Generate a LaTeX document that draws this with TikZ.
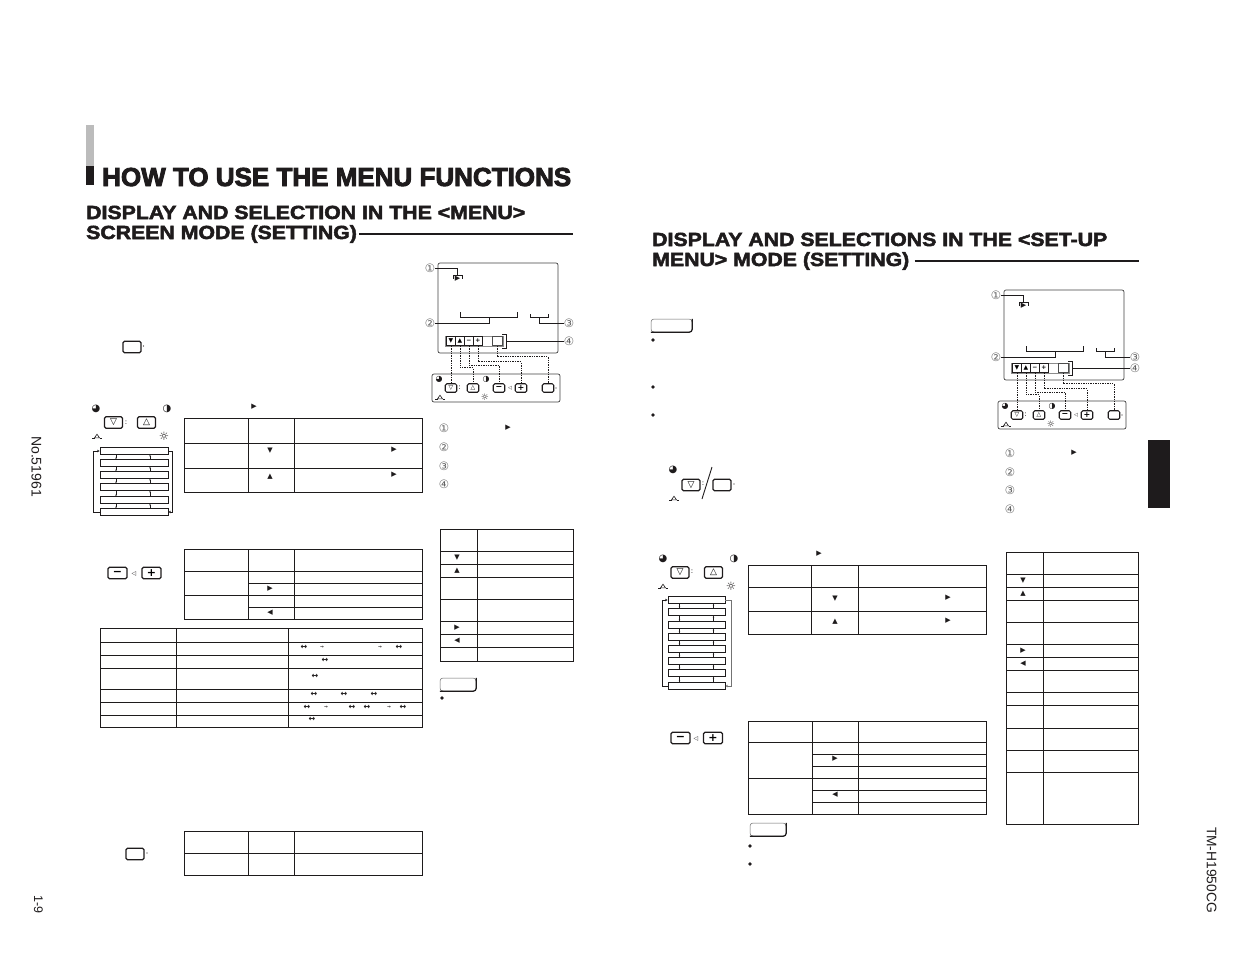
\documentclass[tikz,border=0pt]{standalone}
\usepackage{fontspec}
\setmainfont{Liberation Sans}
\newfontfamily\symfont{DejaVu Sans}
\newfontfamily\titlefont[BoldFeatures={FakeBold=3.4}]{Liberation Sans}
\newfontfamily\subfont[BoldFeatures={FakeBold=2.6,FakeStretch=1.12}]{Liberation Sans}
\usetikzlibrary{arrows.meta}
\definecolor{inkblack}{HTML}{1E1B1C}
\definecolor{barsilver}{HTML}{BCBCBC}
\tikzset{
    tablerule/.style={draw=inkblack, line width=0.95pt},
    glyph/.style={inner sep=0pt, text=inkblack, font=\symfont\fontsize{7}{7}\selectfont},
    panelicon/.style={glyph, font=\symfont\fontsize{8}{8}\selectfont},
    bigicon/.style={glyph, font=\symfont\fontsize{10}{10}\selectfont},
    panelsun/.style={glyph, font=\symfont\fontsize{9}{9}\selectfont},
    bigsun/.style={glyph, font=\symfont\fontsize{11.5}{11.5}\selectfont},
    numglyph/.style={inner sep=0pt, text=black!62, font=\symfont\fontsize{11.5}{11.5}\selectfont},
    keycap/.style={draw=inkblack, line width=1.3pt, rounded corners=1.5pt, inner sep=0pt, minimum width=18pt, minimum height=11.5pt, font=\symfont\fontsize{9}{9}\selectfont},
    signcap/.style={keycap, minimum width=19pt, font=\symfont\bfseries\fontsize{11}{11}\selectfont},
    smallcap/.style={keycap, minimum width=11.5pt, minimum height=8.5pt, line width=1.05pt, font=\symfont\fontsize{6}{6}\selectfont},
    smallsign/.style={smallcap, font=\symfont\bfseries\fontsize{8}{8}\selectfont},
    stripkey/.style={draw=inkblack, line width=0.75pt, inner sep=0pt, minimum width=8.5pt, minimum height=9pt, font=\symfont\bfseries\fontsize{6}{6}\selectfont},
    menurow/.style={draw=inkblack, line width=0.85pt, inner sep=0pt, minimum height=7pt},
    panelframe/.style={draw=black!75, line width=0.7pt, rounded corners=2pt},
    dotlink/.style={draw=inkblack, line width=0.9pt, dash pattern=on 1.4pt off 1pt},
    leader/.style={draw=inkblack, line width=0.75pt},
    looplink/.style={draw=inkblack, line width=0.8pt, -{Stealth[length=2.5pt,width=2.5pt]}},
    stublink/.style={draw=inkblack, line width=0.4pt, -{Stealth[length=1.5pt,width=1.5pt]}},
    notetag/.style={draw=black!60, line width=0.5pt, rounded corners=3pt, inner sep=0pt},
    bulletmark/.style={circle, fill=inkblack, inner sep=0pt, minimum size=3.6pt},
    dotmark/.style={circle, fill=inkblack, inner sep=0pt, minimum size=1.2pt},
    sidetext/.style={inner sep=0pt, text=inkblack, rotate=-90},
    pics/menumark/.style={code={
        \draw[inkblack, line width=0.5pt] (-5,1.8) -- (-2.5,1.8) (2.5,1.8) -- (5,1.8);
        \draw[inkblack, line width=0.6pt] (-2.5,1.8) -- (0,-1.8) -- (2.5,1.8) -- cycle;
    }}
}
\newcommand{\monitorset}[4]{
    \begin{scope}[shift={(#2,#3)}]
        \node[draw=black!75, line width=0.7pt, rounded corners=2pt, minimum width=120pt, minimum height=90pt, inner sep=0pt] (#1scr) at (498,308) {};
        \node[numglyph] (#1n1) at (430,268) {①};
        \node[numglyph] (#1n2) at (430,323+#4) {②};
        \node[numglyph] (#1n3) at (569,323+#4) {③};
        \node[numglyph] (#1n4) at (569,341) {④};
        \node[glyph] (#1mark) at (457.5,278.5) {▶};
        \coordinate (#1marktop) at (457.5,275);
        \coordinate (#1br2) at (489,317+#4);
        \coordinate (#1br3) at (539,317+#4);
        \coordinate (#1br4) at (506,341);
        \draw[leader] (#1n1) -- (457.5,268) -- (#1marktop);
        \draw[leader] (453,279) -- (453,275) -- (462,275) -- (462,279);
        \draw[leader] (460,312+#4) -- (460,317+#4) -- (517,317+#4) -- (517,312+#4);
        \draw[leader] (530,314+#4) -- (530,317+#4) -- (548,317+#4) -- (548,314+#4);
        \draw[leader] (502,334) -- (506,334) -- (506,348) -- (502,348);
        \draw[leader] (#1br2) |- (#1n2);
        \draw[leader] (#1br3) |- (#1n3);
        \draw[leader] (#1br4) -- (#1n4);
        \node[draw=black!45, line width=0.6pt, minimum width=58pt, minimum height=10pt, inner sep=0pt] (#1strip) at (474,341) {};
        \node[stripkey] (#1s1) at (451,341) {▼};
        \node[stripkey] (#1s2) at (460,341) {▲};
        \node[stripkey] (#1s3) at (469,341) {−};
        \node[stripkey] (#1s4) at (478,341) {+};
        \node[stripkey, draw=black!70, minimum width=10pt] (#1s5) at (497,341) {};
        \node[panelframe, minimum width=128pt, minimum height=28pt, inner sep=0pt] (#1pad) at (496,388) {};
        \node[smallcap] (#1k1) at (451,388) {▽};
        \node[smallcap] (#1k2) at (473,388) {△};
        \node[smallsign] (#1k3) at (499,388) {−};
        \node[smallsign] (#1k4) at (521,388) {+};
        \node[smallcap] (#1k5) at (548,388) {};
        \node[panelicon] (#1tint) at (439,379) {◕};
        \node[panelicon] (#1tone) at (486,379) {◑};
        \node[glyph] (#1col) at (459.5,388) {:};
        \node[glyph, font=\symfont\fontsize{5}{5}\selectfont] (#1vol) at (510,388.5) {◁};
        \node[dotmark] (#1dot) at (556,388) {};
        \pic (#1menu) at (440,397) {menumark};
        \node[panelsun] (#1sun) at (485,397) {☼};
        \draw[dotlink] (#1s1.south) -- (#1k1.north);
        \draw[dotlink] (#1s2.south) -- ++(0,22) -| (#1k2.north);
        \draw[dotlink] (#1s3.south) -- ++(0,19.5) -| (#1k3.north);
        \draw[dotlink] (#1s4.south) -- ++(0,16) -| (#1k4.north);
        \draw[dotlink] (#1s5.south) -- ++(0,11) -| (#1k5.north);
    \end{scope}
}
\begin{document}
\begin{tikzpicture}[x=1pt, y=-1pt]
    \useasboundingbox (0,0) rectangle (1235,954);
    \fill[barsilver] (86,125) rectangle (94,166);
    \fill[inkblack] (86,166) rectangle (94,185);
    \fill[inkblack] (1148,440) rectangle (1170,508);
    \node[anchor=base west, inner sep=0pt, text=inkblack, font=\titlefont\bfseries\fontsize{26}{26}\selectfont] (pagetitle) at (102,186) {HOW TO USE THE MENU FUNCTIONS};
    \node[anchor=base west, inner sep=0pt, text=inkblack, font=\subfont\bfseries\fontsize{19}{19}\selectfont] (menuhead) at (86,219) {DISPLAY AND SELECTION IN THE <MENU>};
    \node[anchor=base west, inner sep=0pt, text=inkblack, font=\subfont\bfseries\fontsize{19}{19}\selectfont] (menuhead2) at (86,239) {SCREEN MODE (SETTING)};
    \node[anchor=base west, inner sep=0pt, text=inkblack, font=\subfont\bfseries\fontsize{19}{19}\selectfont] (setuphead) at (652,246) {DISPLAY AND SELECTIONS IN THE <SET-UP};
    \node[anchor=base west, inner sep=0pt, text=inkblack, font=\subfont\bfseries\fontsize{19}{19}\selectfont] (setuphead2) at (652,266) {MENU> MODE (SETTING)};
    \coordinate (menurule) at (573,234);
    \coordinate (setuprule) at (1139,261);
    \draw[inkblack, line width=2pt] (menuhead2.east |- menurule) ++(2,0) -- (menurule);
    \draw[inkblack, line width=2pt] (setuphead2.east |- setuprule) ++(5,0) -- (setuprule);
    \node[sidetext, font=\fontsize{14}{14}\selectfont] (docno) at (36.5,466.5) {No.51961};
    \node[sidetext, font=\fontsize{12.5}{13}\selectfont] (pageno) at (38.5,904.5) {1-9};
    \node[sidetext, font=\fontsize{13.8}{14}\selectfont] (model) at (1211.5,870) {TM-H1950CG};

    \monitorset{lp}{0}{0}{0}
    \monitorset{rp}{566}{27}{7}

    \node[keycap] (lmenukey) at (132,347) {};
    \node[dotmark] (lmenudot) at (143.5,346) {};
    \node[glyph] (lhead) at (254,407) {▶};
    \node[bigicon] (ltint) at (96,409) {◕};
    \node[bigicon] (ltone) at (167,409) {◑};
    \node[keycap] (ldown) at (113.5,422.5) {▽};
    \node[keycap] (lup) at (146.5,422.5) {△};
    \node[glyph] (lcol) at (126,423) {:};
    \pic (lmenuicon) at (97,436) {menumark};
    \node[bigsun] (lsun) at (164,436) {☼};
    \foreach \i/\yy in {1/451,2/463,3/475,4/487,5/500,6/512}
        \node[menurow, minimum width=68pt] (lrow\i) at (134,\yy) {};
    \foreach \i/\j in {1/2,2/3,3/4,4/5,5/6} {
        \draw[stublink] ([xshift=-18pt]lrow\i.south) -- ([xshift=-18pt]lrow\j.north);
        \draw[stublink] ([xshift=16pt]lrow\j.north) -- ([xshift=16pt]lrow\i.south);
    }
    \draw[looplink] (lrow6.west) -- ++(-6,0) |- (lrow1.west);
    \draw[looplink] (lrow1.east) -- ++(4,0) |- (lrow6.east);

    \draw[tablerule] (184,418) rectangle (422,492);
    \foreach \yy in {443,468} \draw[tablerule] (184,\yy) -- (422,\yy);
    \foreach \xx in {248,294} \draw[tablerule] (\xx,418) -- (\xx,492);
    \node[glyph] (adown) at (270,451) {▼};
    \node[glyph] (aup) at (270,477) {▲};
    \node[glyph] (apoint) at (394,450) {▶};
    \node[glyph] (apoint2) at (394,475) {▶};

    \node[signcap] (lminus) at (117.5,573) {−};
    \node[signcap] (lplus) at (151.5,573) {+};
    \node[glyph, font=\symfont\fontsize{6}{6}\selectfont] (lvol) at (134,574) {◁};
    \draw[tablerule] (184,549) rectangle (422,619);
    \foreach \yy in {571,595} \draw[tablerule] (184,\yy) -- (422,\yy);
    \foreach \yy in {583,607} \draw[tablerule] (248,\yy) -- (422,\yy);
    \foreach \xx in {248,294} \draw[tablerule] (\xx,549) -- (\xx,619);
    \node[glyph] (bright) at (270,589) {▶};
    \node[glyph] (bleft) at (270,613) {◀};

    \draw[tablerule] (100,628) rectangle (422,727);
    \foreach \yy in {642,655,668,689,702,715} \draw[tablerule] (100,\yy) -- (422,\yy);
    \foreach \xx in {176,288} \draw[tablerule] (\xx,628) -- (\xx,727);
    \foreach \xx/\yy [count=\n] in {304/647,325/660,315/676,314/694,344/694,374/694,307/707,352/707,367/707,403/707,312/719,399/647}
        \node[glyph, font=\symfont\bfseries\fontsize{8}{8}\selectfont] (both\n) at (\xx,\yy) {↔};
    \foreach \xx/\yy [count=\n] in {322/647,380/647,326/707,389/707}
        \node[glyph, font=\symfont\bfseries\fontsize{4.5}{4.5}\selectfont] (single\n) at (\xx,\yy) {→};

    \node[keycap] (lmenukey2) at (135,854) {};
    \node[dotmark] (lmenudot2) at (147,853) {};
    \draw[tablerule] (184,831) rectangle (422,875);
    \draw[tablerule] (184,853) -- (422,853);
    \foreach \xx in {248,294} \draw[tablerule] (\xx,831) -- (\xx,875);

    \foreach \i/\yy/\lab in {1/428/①,2/447/②,3/466/③,4/484/④}
        \node[numglyph] (lnote\i) at (444,\yy) {\lab};
    \node[glyph] (lnotemark) at (508,428) {▶};
    \draw[tablerule] (440,529) rectangle (573,661);
    \foreach \yy in {551,564,577,599,621,634,647} \draw[tablerule] (440,\yy) -- (573,\yy);
    \draw[tablerule] (477,529) -- (477,661);
    \node[glyph] (ddown) at (457,557.5) {▼};
    \node[glyph] (dup) at (457,570.5) {▲};
    \node[glyph] (dright) at (457,627.5) {▶};
    \node[glyph] (dleft) at (457,640.5) {◀};
    \node[notetag, minimum width=36pt, minimum height=13pt] (lnotetag) at (458,684.5) {};
    \draw[inkblack, line width=1.2pt, rounded corners=3pt] (lnotetag.south west) -- (lnotetag.south east) -- (lnotetag.north east);
    \node[bulletmark] (lbullet) at (442,698) {};

    \node[notetag, minimum width=41pt, minimum height=13pt] (rnotetag) at (671.5,325.5) {};
    \draw[inkblack, line width=1.2pt, rounded corners=3pt] (rnotetag.south west) -- (rnotetag.south east) -- (rnotetag.north east);
    \foreach \i/\yy in {1/340,2/387,3/415}
        \node[bulletmark] (rbullet\i) at (653,\yy) {};
    \node[bigicon] (rtint) at (673,470) {◕};
    \pic (rmenuicon) at (674,498) {menumark};
    \node[keycap] (rdown) at (691,485) {▽};
    \node[glyph] (rcol) at (703,484) {:};
    \node[keycap] (rmenukey) at (722,485) {};
    \node[dotmark] (rmenudot) at (734,484) {};
    \coordinate (rslashtop) at (712,467);
    \coordinate (rslashend) at (702,499);
    \draw[inkblack, line width=0.9pt] (rslashtop) -- (rslashend);

    \node[glyph] (rhead) at (819,554) {▶};
    \node[bigicon] (rtint2) at (663,559) {◕};
    \node[bigicon] (rtone2) at (734,559) {◑};
    \node[keycap] (rdown2) at (680,572.5) {▽};
    \node[keycap] (rup2) at (713.5,572.5) {△};
    \node[glyph] (rcol2) at (692,572) {:};
    \pic (rmenuicon2) at (663,586) {menumark};
    \node[bigsun] (rsun2) at (731,586) {☼};
    \foreach \i/\yy in {1/600,2/612,3/625,4/637,5/649,6/661,7/673,8/686}
        \node[menurow, minimum width=57pt] (rrow\i) at (696.5,\yy) {};
    \foreach \i/\j in {1/2,2/3,3/4,4/5,5/6,6/7,7/8} {
        \draw[stublink] ([xshift=-17pt]rrow\i.south) -- ([xshift=-17pt]rrow\j.north);
        \draw[stublink] ([xshift=17pt]rrow\j.north) -- ([xshift=17pt]rrow\i.south);
    }
    \draw[looplink] (rrow8.west) -- ++(-5,0) |- (rrow1.west);
    \draw[looplink, draw=black!55] (rrow1.east) -- ++(6,0) |- (rrow8.east);

    \draw[tablerule] (748,565) rectangle (986,634);
    \foreach \yy in {587,611} \draw[tablerule] (748,\yy) -- (986,\yy);
    \foreach \xx in {811,858} \draw[tablerule] (\xx,565) -- (\xx,634);
    \node[glyph] (edown) at (835,599) {▼};
    \node[glyph] (eup) at (835,622) {▲};
    \node[glyph] (epoint) at (948,598) {▶};
    \node[glyph] (epoint2) at (948,621) {▶};

    \node[signcap] (rminus) at (680.5,738) {−};
    \node[signcap] (rplus) at (713,738) {+};
    \node[glyph, font=\symfont\fontsize{6}{6}\selectfont] (rvol) at (696,739) {◁};
    \draw[tablerule] (748,721) rectangle (986,814);
    \foreach \yy in {742,778} \draw[tablerule] (748,\yy) -- (986,\yy);
    \foreach \yy in {754,766,790,802} \draw[tablerule] (812,\yy) -- (986,\yy);
    \foreach \xx in {812,858} \draw[tablerule] (\xx,721) -- (\xx,814);
    \node[glyph] (fright) at (835,759) {▶};
    \node[glyph] (fleft) at (835,795) {◀};
    \node[notetag, minimum width=36pt, minimum height=13pt] (rnotetag2) at (768,829.5) {};
    \draw[inkblack, line width=1.2pt, rounded corners=3pt] (rnotetag2.south west) -- (rnotetag2.south east) -- (rnotetag2.north east);
    \foreach \i/\yy in {1/846,2/864}
        \node[bulletmark] (rlast\i) at (750,\yy) {};

    \foreach \i/\yy/\lab in {1/453/①,2/472/②,3/490/③,4/509/④}
        \node[numglyph] (rnote\i) at (1010,\yy) {\lab};
    \node[glyph] (rnotemark) at (1074,453) {▶};
    \draw[tablerule] (1006,552) rectangle (1138,824);
    \foreach \yy in {574,587,600,622,644,657,670,692,705,728,750,772} \draw[tablerule] (1006,\yy) -- (1138,\yy);
    \draw[tablerule] (1043,552) -- (1043,824);
    \node[glyph] (gdown) at (1023,581) {▼};
    \node[glyph] (gup) at (1023,594) {▲};
    \node[glyph] (gright) at (1023,650.5) {▶};
    \node[glyph] (gleft) at (1023,663.5) {◀};
\end{tikzpicture}
\end{document}
